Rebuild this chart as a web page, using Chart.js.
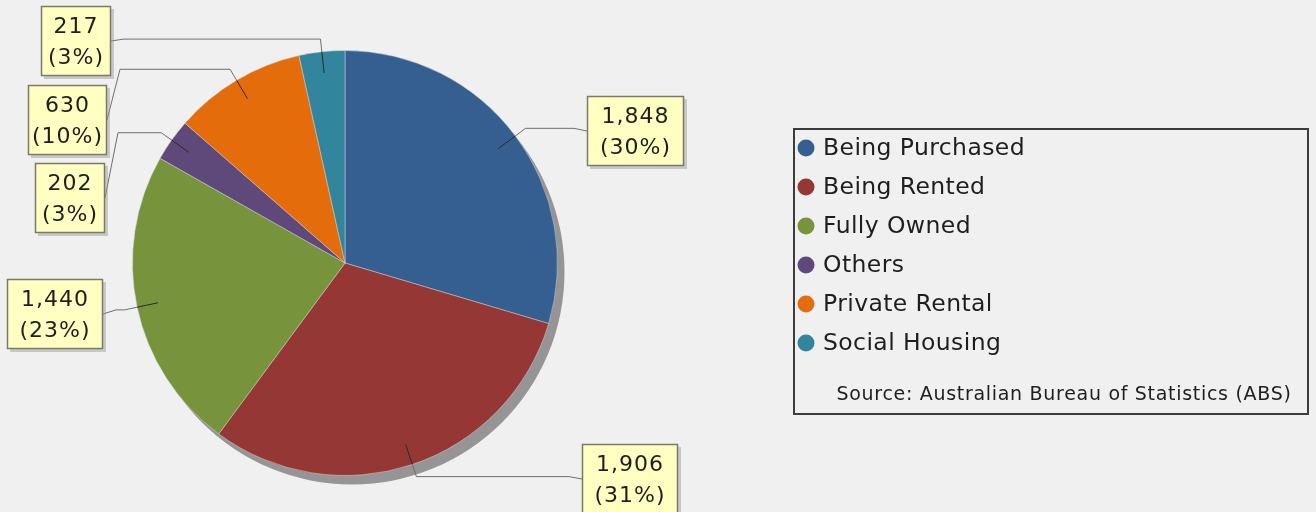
<!DOCTYPE html>
<html>
<head>
<meta charset="utf-8">
<script src="https://cdn.jsdelivr.net/npm/chart.js@4"></script>
<style>
  html, body { margin: 0; padding: 0; background: #f0f0f0; }
  #wrap { width: 1316px; height: 512px; }
</style>
</head>
<body>
<div id="wrap"><canvas id="tenureChart" width="1316" height="512"></canvas></div>
<script>
const categories = ['Being Purchased', 'Being Rented', 'Fully Owned', 'Others', 'Private Rental', 'Social Housing'];
const households = [1848, 1906, 1440, 202, 630, 217];
const sliceColors = ['#365f91', '#953735', '#77933c', '#5f497a', '#e46c0a', '#31859c'];
const sourceNote = 'Source: Australian Bureau of Statistics (ABS)';

// where each label box sits (edge next to the leader line, vertical centre, width)
const labelBoxes = [
    { side: 'right', edge: 587, cy: 131, w: 97 },
    { side: 'right', edge: 582, cy: 479, w: 96 },
    { side: 'left', edge: 103, cy: 314, w: 96 },
    { side: 'left', edge: 105, cy: 198, w: 70 },
    { side: 'left', edge: 107, cy: 120, w: 79 },
    { side: 'left', edge: 111, cy: 41, w: 70 }
];

const total = households.reduce((a, b) => a + b, 0);
const fmt = v => v.toLocaleString('en-US');
const pct = v => Math.round(v / total * 100) + '%';

// grey drop shadow behind the pie
const pieShadow = {
    id: 'pieShadow',
    beforeDatasetsDraw(chart) {
        const arc = chart.getDatasetMeta(0).data[0];
        if (!arc) return;
        const ctx = chart.ctx;
        ctx.save();
        ctx.fillStyle = '#959595';
        ctx.beginPath();
        ctx.arc(arc.x + 7, arc.y + 9, arc.outerRadius, 0, Math.PI * 2);
        ctx.fill();
        ctx.restore();
    }
};

// yellow value boxes with leader lines
const valueLabels = {
    id: 'valueLabels',
    afterDatasetsDraw(chart) {
        const ctx = chart.ctx;
        const arcs = chart.getDatasetMeta(0).data;
        ctx.save();
        arcs.forEach((arc, i) => {
            const box = labelBoxes[i];
            const mid = (arc.startAngle + arc.endAngle) / 2;
            const r = arc.outerRadius;
            const ax = arc.x + Math.cos(mid) * r * 0.9;
            const ay = arc.y + Math.sin(mid) * r * 0.9;
            const ex = arc.x + Math.cos(mid) * r * 1.06;
            const ey = arc.y + Math.sin(mid) * r * 1.06;

            const w = box.w;
            const h = 70;
            const bx = box.side === 'right' ? box.edge : box.edge - w;
            const by = box.cy - h / 2;
            const gap = box.side === 'right' ? -13 : 13;

            // leader: darker inside the slice, lighter outside
            ctx.lineWidth = 1;
            ctx.strokeStyle = '#2a2a2a';
            ctx.beginPath();
            ctx.moveTo(ax, ay);
            ctx.lineTo(arc.x + Math.cos(mid) * r, arc.y + Math.sin(mid) * r);
            ctx.stroke();
            ctx.strokeStyle = '#6e6e6e';
            ctx.beginPath();
            ctx.moveTo(arc.x + Math.cos(mid) * r, arc.y + Math.sin(mid) * r);
            ctx.lineTo(ex, ey);
            ctx.lineTo(box.edge + gap, ey);
            ctx.lineTo(box.edge, box.cy);
            ctx.stroke();

            // box shadow + box
            ctx.fillStyle = 'rgba(150,150,150,0.45)';
            ctx.fillRect(bx + 3, by + 3, w, h);
            ctx.fillStyle = '#ffffc2';
            ctx.fillRect(bx, by, w, h);
            ctx.strokeStyle = '#7a7a6a';
            ctx.lineWidth = 1.5;
            ctx.strokeRect(bx + 0.5, by + 0.5, w - 1, h - 1);

            ctx.font = '22px "DejaVu Sans"';
            ctx.letterSpacing = '1px';
            ctx.fillStyle = '#1e1e1e';
            ctx.textAlign = 'center';
            ctx.textBaseline = 'middle';
            ctx.fillText(fmt(households[i]), bx + w / 2, by + 21);
            ctx.fillText('(' + pct(households[i]) + ')', bx + w / 2, by + 52);
        });
        ctx.restore();
    }
};

// boxed legend on the right
const boxLegend = {
    id: 'boxLegend',
    afterDraw(chart) {
        const ctx = chart.ctx;
        ctx.save();
        ctx.strokeStyle = '#3c3c3c';
        ctx.lineWidth = 2;
        ctx.strokeRect(794, 129, 514, 285);
        ctx.textAlign = 'left';
        ctx.textBaseline = 'middle';
        ctx.font = '23.5px "DejaVu Sans"';
        ctx.letterSpacing = '0.4px';
        categories.forEach((name, i) => {
            const y = 148 + i * 39;
            ctx.fillStyle = sliceColors[i];
            ctx.beginPath();
            ctx.arc(806, y, 8.5, 0, Math.PI * 2);
            ctx.fill();
            ctx.fillStyle = '#1e1e1e';
            ctx.fillText(name, 823, y + 1);
        });
        ctx.font = '19px "DejaVu Sans"';
        ctx.letterSpacing = '0.7px';
        ctx.textAlign = 'center';
        ctx.fillText(sourceNote, 1064, 395);
        ctx.restore();
    }
};

new Chart(document.getElementById('tenureChart'), {
    type: 'pie',
    data: {
        labels: categories,
        datasets: [{
            data: households,
            backgroundColor: sliceColors,
            borderColor: 'rgba(215,215,215,0.5)',
            borderWidth: 1,
            hoverOffset: 0
        }]
    },
    options: {
        responsive: false,
        animation: false,
        events: [],
        layout: { padding: { left: 132, right: 758, top: 50, bottom: 36 } },
        plugins: {
            legend: { display: false },
            tooltip: { enabled: false }
        }
    },
    plugins: [pieShadow, valueLabels, boxLegend]
});
</script>
</body>
</html>
